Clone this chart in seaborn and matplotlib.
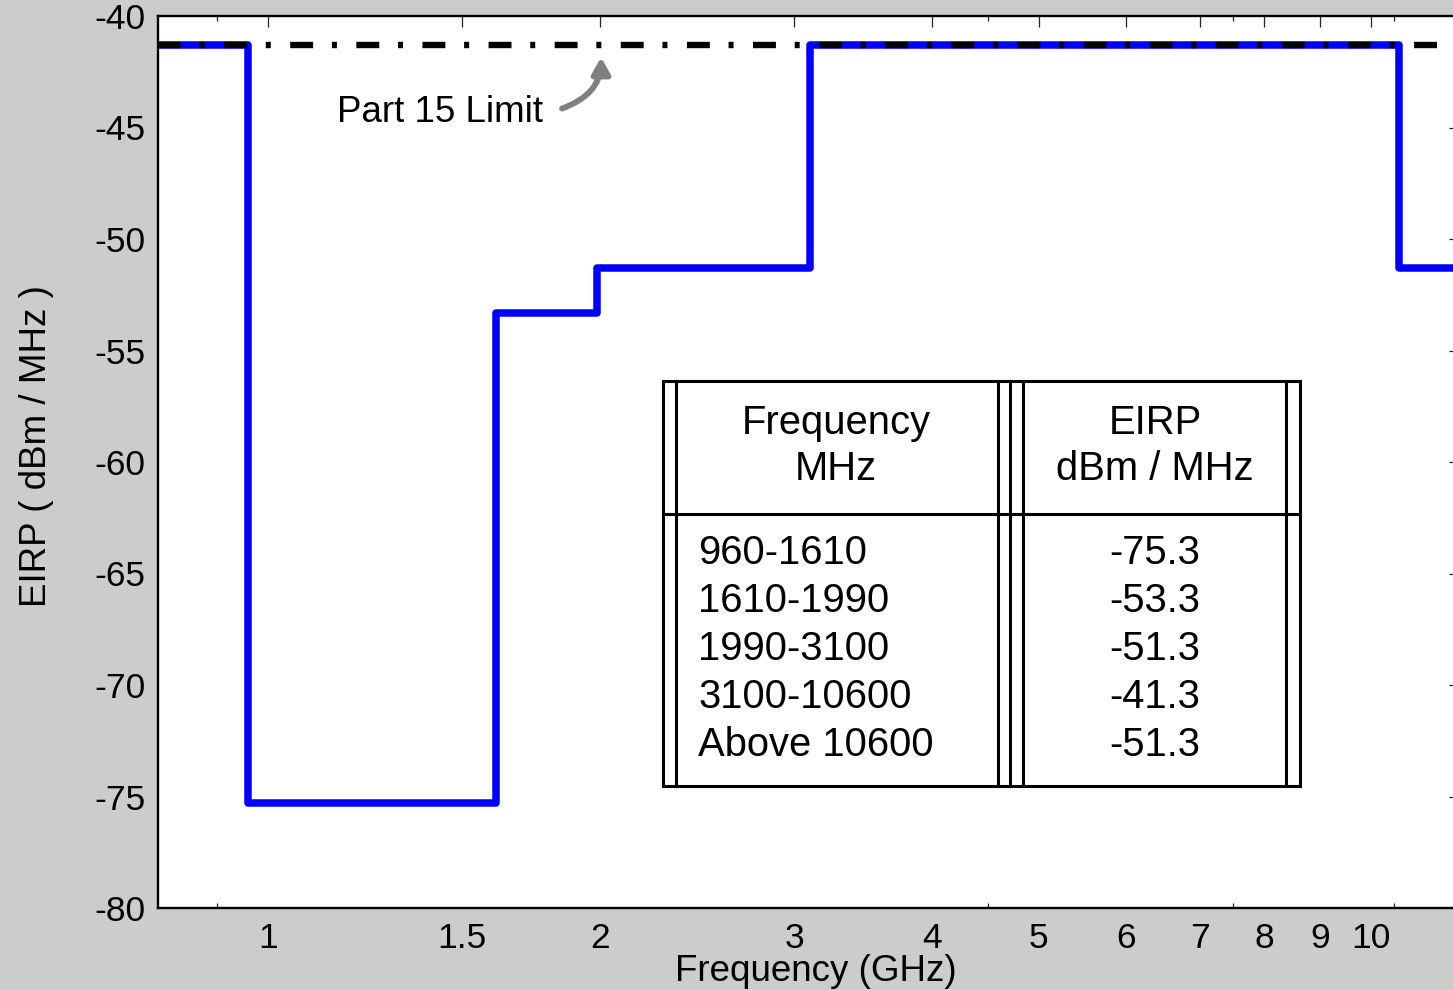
import matplotlib
matplotlib.use("Agg")
import matplotlib.pyplot as plt
import matplotlib.transforms as mtransforms
from matplotlib.lines import Line2D
from matplotlib.ticker import FixedLocator, NullFormatter
import seaborn as sns
import pandas as pd

# FCC indoor UWB emission mask (EIRP per MHz versus frequency)
band_edges_ghz = [0.795, 0.96, 1.61, 1.99, 3.1, 10.6, 12.05]
eirp_dbm_mhz = [-41.3, -75.3, -53.3, -51.3, -41.3, -51.3, -51.3]
part15_limit = -41.3

x_major_ticks = [1, 1.5, 2, 3, 4, 5, 6, 7, 8, 9, 10]
x_tick_labels = ["1", "1.5", "2", "3", "4", "5", "6", "7", "8", "9", "10"]
x_minor_ticks = [0.9, 4.5, 7.5, 10.5]
y_ticks = [-80, -75, -70, -65, -60, -55, -50, -45, -40]

table_header = [["Frequency", "MHz"], ["EIRP", "dBm / MHz"]]
table_bands = ["960-1610", "1610-1990", "1990-3100", "3100-10600", "Above 10600"]
table_levels = ["-75.3", "-53.3", "-51.3", "-41.3", "-51.3"]

sns.set_theme(style="white")
plt.rcParams["font.family"] = ["Liberation Sans", "DejaVu Sans"]
plt.rcParams["lines.scale_dashes"] = False

W, H = 1453, 990
fig = plt.figure(figsize=(W / 100, H / 100), dpi=100, facecolor="#cccccc")

# axes box in pixel terms: left 158, right 1460, top 16, bottom 908
ax = fig.add_axes([158 / W, 1 - 908 / H, (1460 - 158) / W, (908 - 16) / H])
ax.set_facecolor("white")
ax.set_xscale("log")

df = pd.DataFrame({"freq": band_edges_ghz, "eirp": eirp_dbm_mhz})
sns.lineplot(data=df, x="freq", y="eirp", ax=ax, drawstyle="steps-post",
             color="#0000ff", linewidth=5.4, estimator=None, sort=False,
             solid_joinstyle="round", solid_capstyle="round", zorder=3)

ax.axhline(part15_limit, color="black", linewidth=4.6,
           linestyle=(0, (16.5, 13.5, 3.6, 14.0)), dash_capstyle="butt", zorder=4)

ax.set_xlim(band_edges_ghz[0], band_edges_ghz[-1])
ax.set_ylim(-80, -40)

ax.xaxis.set_major_locator(FixedLocator(x_major_ticks))
ax.set_xticklabels(x_tick_labels)
ax.xaxis.set_minor_locator(FixedLocator(x_minor_ticks))
ax.xaxis.set_minor_formatter(NullFormatter())
ax.set_yticks(y_ticks)
ax.set_yticklabels([str(v) for v in y_ticks])

ax.tick_params(axis="both", which="major", direction="in", length=8, width=0.9,
               color="#222222", labelsize=25.5, labelcolor="black",
               top=True, right=True, pad=9)
ax.tick_params(axis="x", which="minor", direction="in", length=3.5, width=0.9,
               color="#222222", top=True, bottom=True)
ax.tick_params(axis="x", which="major", pad=10)
ax.tick_params(axis="y", which="major", pad=9)

for s in ax.spines.values():
    s.set_color("black")
    s.set_linewidth(1.7)

ax.set_xlabel("Frequency (GHz)", fontsize=26.5, color="black")
ax.set_ylabel("EIRP ( dBm / MHz )", fontsize=26.5, color="black")
ax.xaxis.set_label_coords((816 - 158) / 1302, (908 - 954) / 892)
ax.yaxis.set_label_coords((54 - 158) / 1302, (908 - 446) / 892)

# annotation for the Part 15 limit
ax.text(1.155, -44.75, "Part 15 Limit", fontsize=26.5, color="black",
        ha="left", va="baseline")
ax.annotate("", xy=(2.005, -41.85), xytext=(1.848, -44.15),
            arrowprops=dict(arrowstyle="-|>,head_length=0.8,head_width=0.45",
                            color="#808080", lw=4.2, shrinkA=0, shrinkB=0,
                            connectionstyle="angle3,angleA=20,angleB=90"))

# summary table drawn on top of the axes, positioned in figure pixels
px = mtransforms.Affine2D().scale(1 / W, -1 / H).translate(0, 1) + fig.transFigure

def line(x0, y0, x1, y1):
    fig.add_artist(Line2D([x0, x1], [y0, y1], transform=px, color="black",
                          linewidth=2.2, solid_capstyle="projecting"))

top, mid, bot = 381, 514, 786
for xv in [663, 676, 998, 1010, 1023, 1286, 1300]:
    line(xv, top, xv, bot)
for yv in [top, mid, bot]:
    line(663, yv, 1300, yv)

tfs = 28.8
for i, col_x in enumerate([836, 1155]):
    for j, base in enumerate([434, 480]):
        fig.text(col_x, base, table_header[i][j], transform=px, fontsize=tfs,
                 ha="center", va="baseline", color="black")
for k, (band, lvl) in enumerate(zip(table_bands, table_levels)):
    base = 564 + 48 * k
    fig.text(698, base, band, transform=px, fontsize=tfs, ha="left",
             va="baseline", color="black")
    fig.text(1155, base, lvl, transform=px, fontsize=tfs, ha="center",
             va="baseline", color="black")

fig.savefig("out.png", dpi=100, facecolor=fig.get_facecolor())
